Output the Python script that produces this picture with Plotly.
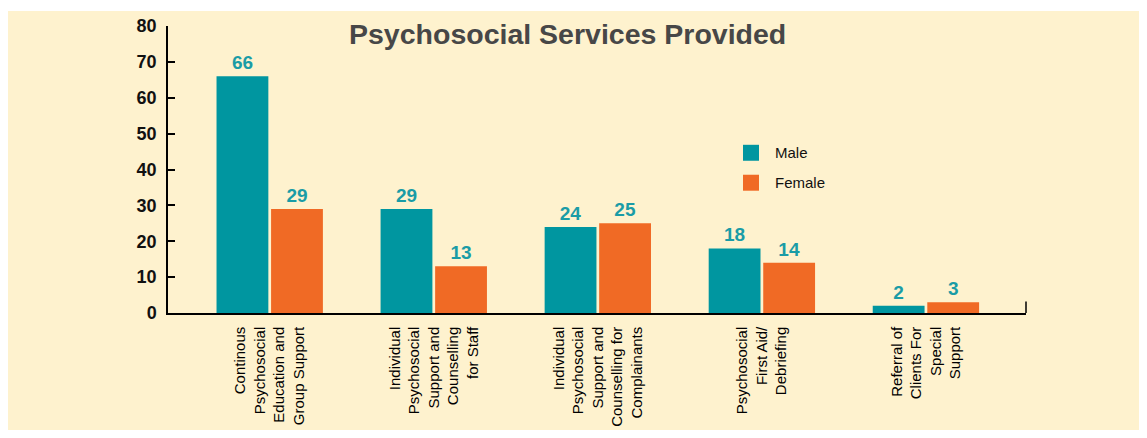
import plotly.graph_objects as go

categories = [
    "Continous<br>Psychosocial<br>Education and<br>Group Support",
    "Individual<br>Psychosocial<br>Support and<br>Counselling<br>for Staff",
    "Individual<br>Psychosocial<br>Support and<br>Counselling for<br>Complainants",
    "Psychosocial<br>First Aid/<br>Debriefing",
    "Referral of<br>Clients For<br>Special<br>Support",
]
male = [66, 29, 24, 18, 2]
female = [29, 13, 25, 14, 3]
series_names = ["Male", "Female"]
y_ticks = [0, 10, 20, 30, 40, 50, 60, 70, 80]

TEAL = "#0096a0"
ORANGE = "#f06a25"
LABEL = "#1a9ca6"
BG = "#fef2ce"
FONT = "Liberation Sans, Arial, sans-serif"

# page body has an 8px margin; work in screen coordinates and shift
OFF = 8
W, H = 1147 - 2 * OFF, 438 - 2 * OFF
# plot area in screen coordinates
SX0, SX1, SY0, SY1 = 168, 1026, 26, 313.5
L, R = SX0 - OFF, (W + OFF) - SX1
T, B = SY0 - OFF, (H + OFF) - SY1
PW, PH = SX1 - SX0, SY1 - SY0

def px(x):
    return (x - SX0) / PW

def py(y):
    return (SY1 - y) / PH

fig = go.Figure()
for name, vals, col in [(series_names[0], male, TEAL), (series_names[1], female, ORANGE)]:
    fig.add_trace(go.Bar(
        x=categories, y=vals, name=name, marker=dict(color=col, line=dict(width=0)),
        text=vals, textposition="outside", cliponaxis=False,
        texttemplate="<b>%{text}</b>",
        textfont=dict(color=LABEL, size=19, family=FONT),
        showlegend=False,
    ))

shapes = [
    dict(type="rect", xref="paper", yref="paper", x0=px(6), x1=px(1160), y0=py(437), y1=py(11),
         fillcolor=BG, line=dict(width=0), layer="below"),
    dict(type="line", xref="paper", yref="paper", x0=1, x1=1, y0=0, y1=py(302),
         line=dict(color="black", width=1.5)),
]
annotations = [
    dict(text="<b>Psychosocial Services Provided</b>", xref="paper", yref="paper",
         x=px(567), y=py(34), xanchor="center", yanchor="middle", showarrow=False,
         font=dict(size=28.5, color="#474747", family=FONT)),
]
for i, (name, col) in enumerate([(series_names[0], TEAL), (series_names[1], ORANGE)]):
    cy = 153 + i * 30
    shapes.append(dict(type="rect", xref="paper", yref="paper", x0=px(743), x1=px(759),
                       y0=py(cy + 8), y1=py(cy - 8), fillcolor=col, line=dict(width=0)))
    annotations.append(dict(text=name, xref="paper", yref="paper", x=px(773), y=py(cy),
                            xanchor="left", yanchor="middle", showarrow=False,
                            font=dict(size=15, color="#111111", family=FONT)))

fig.update_layout(
    width=W, height=H,
    margin=dict(l=L, r=R, t=T, b=B, pad=0, autoexpand=False),
    paper_bgcolor="white", plot_bgcolor="rgba(0,0,0,0)",
    barmode="group", bargap=0.335, bargroupgap=0.05,
    font=dict(family=FONT, color="#111111"),
    shapes=shapes, annotations=annotations,
    xaxis=dict(range=[-0.62, 4.61], showline=True, linecolor="black", linewidth=1.5,
               ticks="", tickangle=-90, tickfont=dict(size=15, color="#000000"),
               ticklabelstandoff=6, showgrid=False, zeroline=False, fixedrange=True,
               automargin=False),
    yaxis=dict(range=[0, 80], tickvals=y_ticks, showline=True, linecolor="black", linewidth=1.5,
               ticks="inside", ticklen=7, tickwidth=1.5, tickcolor="black",
               ticktext=[f"<b>{v}</b>" for v in y_ticks],
               tickfont=dict(size=18, color="#111111"), ticklabelstandoff=6,
               showgrid=False, zeroline=False, fixedrange=True, automargin=False),
)

fig.write_html("out.html")
